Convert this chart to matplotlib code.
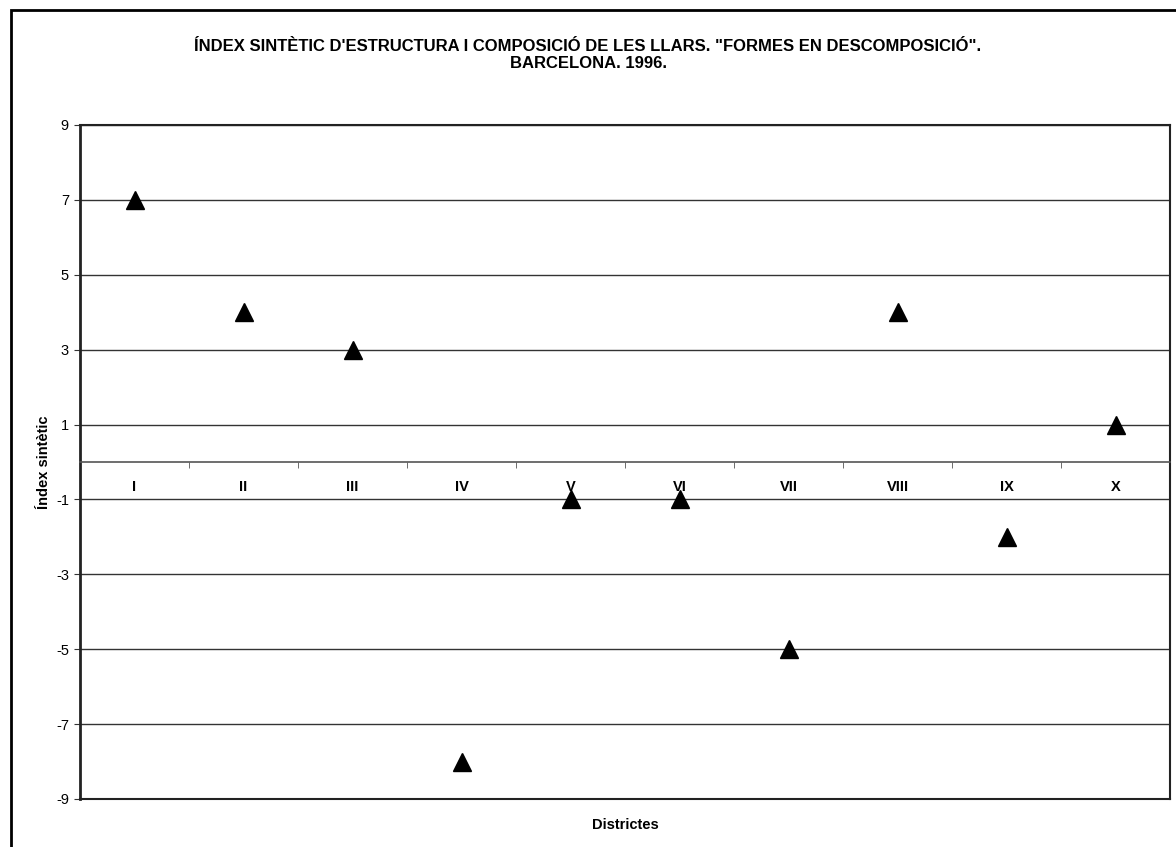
import matplotlib
matplotlib.use("Agg")
import matplotlib.pyplot as plt
from matplotlib.patches import Rectangle
import numpy as np

plt.rcParams['font.family'] = ['Liberation Sans', 'DejaVu Sans']

districts = ["I", "II", "III", "IV", "V", "VI", "VII", "VIII", "IX", "X"]
values = [7, 4, 3, -8, -1, -1, -5, 4, -2, 1]
yticks = [-9, -7, -5, -3, -1, 1, 3, 5, 7, 9]
title = "ÍNDEX SINTÈTIC D'ESTRUCTURA I COMPOSICIÓ DE LES LLARS. \"FORMES EN DESCOMPOSICIÓ\".\nBARCELONA. 1996."

W, H = 1176, 847
fig = plt.figure(figsize=(W / 100, H / 100), dpi=100)
ax = fig.add_axes([80 / W, 1 - 799 / H, (1170 - 80) / W, (799 - 125) / H])

x = np.arange(len(districts))
ax.plot(x, values, linestyle='none', marker='^', markersize=12.5,
        color='black', zorder=5, clip_on=False)

ax.set_xlim(-0.5, len(districts) - 0.5)
ax.set_ylim(-9, 9)
ax.set_yticks(yticks)
ax.set_yticklabels([str(v) for v in yticks], fontsize=10.5)
for v in yticks:
    ax.axhline(v, color='#333333', linewidth=1, zorder=1)

# category axis crossing at zero
ax.spines['bottom'].set_position(('data', 0))
ax.spines['bottom'].set_color('#555555')
ax.spines['bottom'].set_linewidth(1.2)
ax.set_xticks(x)
ax.set_xticklabels(districts, fontsize=10.5, fontweight='bold')
ax.tick_params(axis='x', which='major', length=0, pad=13)
ax.set_xticks(np.arange(0.5, len(districts) - 0.5, 1), minor=True)
ax.tick_params(axis='x', which='minor', length=4, direction='out', color='#555555')
ax.tick_params(axis='y', length=4, direction='out', color='#333333', pad=4)

# plot-area border
ax.spines['left'].set_linewidth(2)
ax.spines['left'].set_color('#222222')
ax.spines['right'].set_linewidth(1.5)
ax.spines['right'].set_color('#222222')
ax.spines['top'].set_linewidth(1.5)
ax.spines['top'].set_color('#222222')
ax.plot([0, 1], [0, 0], transform=ax.transAxes, color='#222222',
        linewidth=1.5, clip_on=False, zorder=3)

ax.set_ylabel("Índex sintètic", fontsize=10.5, fontweight='bold')
ax.yaxis.set_label_coords((51 - 80) / (1170 - 80), 0.5)
fig.text((80 + 1170) / 2 / W, 1 - 825 / H, "Districtes", fontsize=10.5,
         fontweight='bold', ha='center', va='center')
fig.text(588 / W, 1 - 55 / H, title, fontsize=12, fontweight='bold',
         ha='center', va='center', linespacing=1.15)

# outer chart frame
fig.patches.append(Rectangle((11 / W, -0.05), 1.2, 1 - 10 / H + 0.05,
                             transform=fig.transFigure, fill=False,
                             edgecolor='black', linewidth=2))

fig.savefig("out.png", dpi=100)
